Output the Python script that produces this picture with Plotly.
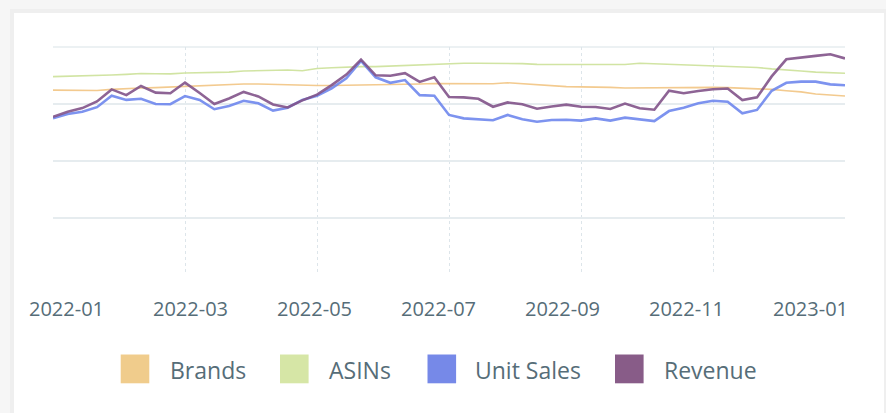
"""
Weekly trend lines (Brands / ASINs / Unit Sales / Revenue), indexed 0-100
"""
import pandas as pd
import plotly.graph_objects as go

# weekly observations
weeks = pd.date_range("2022-01-03", periods=55, freq="7D").strftime("%Y-%m-%d").tolist()
tick_every = 9
tick_labels = ["2022-01", "2022-03", "2022-05", "2022-07", "2022-09", "2022-11", "2023-01"]

brands = [
    81.1, 81.1, 81.1, 80.9, 81.4, 81.8, 82.0, 82.2, 82.5, 82.7,
    82.9, 83.1, 83.6, 83.8, 83.8, 83.6, 83.3, 83.1, 83.1, 83.1,
    83.2, 83.3, 83.3, 83.3, 83.6, 83.8, 84.0, 84.0, 84.0, 83.8,
    83.9, 84.3, 83.8, 83.3, 82.9, 82.6, 82.5, 82.5, 82.3, 82.0,
    82.1, 82.2, 82.3, 82.2, 82.2, 82.3, 82.2, 82.0, 81.8, 81.4,
    80.8, 80.3, 79.4, 78.9, 78.5,
]
asins = [
    87.0, 87.1, 87.3, 87.5, 87.7, 88.0, 88.4, 88.3, 88.2, 88.6,
    88.7, 88.7, 89.0, 89.5, 89.6, 89.8, 89.9, 89.6, 90.6, 90.9,
    91.2, 91.4, 91.4, 91.7, 91.8, 92.0, 92.4, 92.9, 92.9, 92.9,
    92.9, 92.9, 92.7, 92.4, 92.4, 92.5, 92.5, 92.4, 92.3, 92.3,
    92.9, 92.7, 92.3, 92.1, 91.8, 91.7, 91.5, 91.4, 91.0, 90.4,
    89.8, 89.5, 89.0, 88.7, 88.5,
]
unit_sales = [
    68.7, 70.6, 71.6, 73.6, 78.6, 76.8, 77.3, 75.0, 74.9, 78.5,
    76.8, 72.7, 74.1, 76.4, 75.3, 72.1, 73.4, 76.8, 78.6, 81.9,
    86.3, 93.9, 86.7, 84.3, 85.5, 78.9, 78.6, 70.2, 68.7, 68.3,
    67.9, 70.2, 68.3, 67.2, 68.0, 68.1, 67.7, 68.7, 67.7, 69.0,
    68.3, 67.5, 71.9, 73.4, 75.3, 76.4, 76.0, 70.9, 72.4, 80.8,
    84.3, 84.8, 84.8, 83.6, 83.2,
]
revenue = [
    69.4, 71.6, 73.2, 76.1, 81.4, 78.9, 82.9, 80.0, 79.7, 84.4,
    79.8, 75.0, 77.4, 80.3, 78.3, 74.8, 73.5, 76.6, 79.1, 83.3,
    87.9, 94.5, 87.6, 87.4, 88.5, 84.7, 86.7, 78.1, 77.9, 77.3,
    73.8, 75.7, 74.9, 72.9, 73.9, 74.7, 73.8, 73.7, 72.8, 75.2,
    73.1, 72.5, 80.8, 79.7, 80.7, 81.5, 81.8, 76.7, 77.9, 87.1,
    94.6, 95.5, 96.1, 96.8, 95.0,
]

series = [
    ("Brands", brands, "#f2c583", 1.6, "#f0cc8c"),
    ("ASINs", asins, "#cde29a", 1.6, "#d6e6a6"),
    ("Unit Sales", unit_sales, "#6f88ee", 2.6, "#7689e8"),
    ("Revenue", revenue, "#82548a", 2.6, "#885c88"),
]

TEXT = "#566d78"
FONT = "Open Sans, sans-serif"
GRID = "#e6ecef"

# plot area in pixels (886x413 canvas)
L, R, T, B = 53, 845, 47, 275


def px_x(x):
    return (x - L) / (R - L)


def px_y(y):
    return (B - y) / (B - T)


fig = go.Figure()
for name, values, color, width, _ in series:
    fig.add_trace(go.Scatter(
        x=weeks, y=values, name=name, mode="lines",
        line=dict(color=color, width=width),
        opacity=0.9, showlegend=False,
    ))

shapes = [
    # card with soft shadow
    dict(type="rect", xref="paper", yref="paper", layer="below",
         x0=px_x(10), x1=px_x(888), y0=px_y(430), y1=px_y(9),
         fillcolor="#efefef", line_width=0),
    dict(type="rect", xref="paper", yref="paper", layer="below",
         x0=px_x(14), x1=px_x(884), y0=px_y(430), y1=px_y(13),
         fillcolor="white", line_width=0),
    # top border of the grid
    dict(type="line", xref="paper", yref="paper", layer="below",
         x0=0, x1=1, y0=1, y1=1, line=dict(color=GRID, width=1.5)),
]
annotations = []

# tick labels are spread evenly across the axis, not centred on the gridlines
for k, label in enumerate(tick_labels):
    annotations.append(dict(
        text=label, xref="paper", yref="paper", x=px_x(66 + 124 * k), y=px_y(308.5),
        xanchor="center", yanchor="middle", showarrow=False,
        font=dict(family=FONT, size=20, color=TEXT),
    ))

# hand-drawn legend: big square swatches
legend_pos = [(120.7, 168), (280, 327), (427.5, 473), (615, 662)]
for (sq_x, txt_x), (name, _, _, _, swatch) in zip(legend_pos, series):
    shapes.append(dict(
        type="rect", xref="paper", yref="paper",
        x0=px_x(sq_x), x1=px_x(sq_x + 28.6), y0=px_y(383.3), y1=px_y(354.5),
        fillcolor=swatch, line_width=0,
    ))
    annotations.append(dict(
        text=name, xref="paper", yref="paper", x=px_x(txt_x), y=px_y(370),
        xanchor="left", yanchor="middle", showarrow=False,
        font=dict(family=FONT, size=23, color=TEXT),
    ))

fig.update_layout(
    width=886, height=413,
    margin=dict(l=L, r=886 - R, t=T, b=413 - B),
    paper_bgcolor="#f6f6f6",
    plot_bgcolor="rgba(0,0,0,0)",
    showlegend=False,
    shapes=shapes,
    annotations=annotations,
    font=dict(family=FONT, color=TEXT),
    xaxis=dict(
        type="category",
        range=[0, len(weeks) - 1],
        tickvals=weeks[::tick_every],
        showticklabels=False,
        automargin=False,
        showgrid=True, gridcolor="#dde5ea", griddash="dot", gridwidth=1,
        showline=False, zeroline=False,
    ),
    yaxis=dict(
        range=[0, 100],
        tickvals=[25, 50, 75, 100],
        showticklabels=False,
        automargin=False,
        showgrid=True, gridcolor=GRID, gridwidth=1.5,
        showline=False, zeroline=False,
    ),
)

# drop the page's default body margin so the figure sits at (0, 0)
fig.write_html(
    "out.html",
    config={"displayModeBar": False},
    post_script="document.body.style.margin='0';",
)
